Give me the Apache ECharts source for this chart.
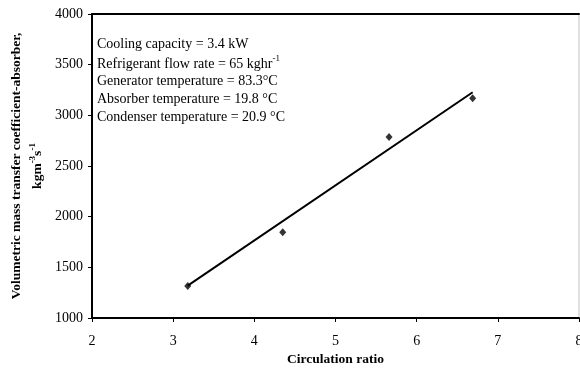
<!DOCTYPE html>
<html>
<head>
<meta charset="utf-8">
<script src="https://cdn.jsdelivr.net/npm/echarts@6/dist/echarts.min.js"></script>
<style>
  html, body { margin: 0; padding: 0; background: #fff; }
  #chart { width: 580px; height: 368px; }
</style>
</head>
<body>
<div id="chart"></div>
<script>
// Measured circulation ratio vs. volumetric mass transfer coefficient (absorber)
const ratio = [3.18, 4.35, 5.66, 6.69];
const coeff = [1316, 1846, 2787, 3169];

// Linear trend line end points
const trendRatio = [3.18, 6.69];
const trendCoeff = [1320, 3228];

// Axis ranges
const xTicks = { min: 2, max: 8, step: 1 };
const yTicks = { min: 1000, max: 4000, step: 500 };

// Operating conditions shown inside the plot
const conditions = [
  '{t|Cooling capacity = 3.4 kW}',
  '{t2|Refrigerant flow rate = 65 kghr}{s|-1}',
  '{t|Generator temperature = 83.3°C}',
  '{t|Absorber temperature = 19.8 °C}',
  '{t|Condenser temperature = 20.9 °C}'
];

const FONT = '"Liberation Serif", "Times New Roman", serif';

const chart = echarts.init(document.getElementById('chart'), null, { renderer: 'canvas' });

chart.setOption({
  animation: false,
  backgroundColor: '#fff',
  grid: {
    left: 92, right: 1, top: 14, bottom: 50,
    outerBoundsMode: 'none',
    containLabel: false,
    show: true, borderColor: '#c0c0c0', borderWidth: 1, backgroundColor: 'transparent'
  },
  xAxis: [{
    type: 'value',
    min: xTicks.min, max: xTicks.max, interval: xTicks.step,
    name: 'Circulation ratio',
    nameLocation: 'middle',
    nameGap: 35,
    nameTextStyle: { fontFamily: FONT, fontWeight: 'bold', fontSize: 13.5, color: '#000' },
    axisLine: { show: true, onZero: false, lineStyle: { color: '#000', width: 2 } },
    axisTick: { show: true, inside: false, length: 4, lineStyle: { color: '#000', width: 1 } },
    axisLabel: { fontFamily: FONT, fontSize: 14, color: '#000', margin: 16, hideOverlap: false },
    splitLine: { show: false }
  }, {
    type: 'value',
    position: 'top',
    min: xTicks.min, max: xTicks.max, interval: xTicks.step,
    axisLine: { show: true, onZero: false, lineStyle: { color: '#000', width: 2 } },
    axisTick: { show: false },
    axisLabel: { show: false },
    splitLine: { show: false }
  }],
  yAxis: {
    type: 'value',
    min: yTicks.min, max: yTicks.max, interval: yTicks.step,
    name: '{b|Volumetric mass transfer coefficient-absorber,}\n{b|kgm}{s|-3}{b|s}{s|-1}',
    nameLocation: 'middle',
    nameRotate: 90,
    nameGap: 40,
    nameTextStyle: {
      fontFamily: FONT, color: '#000', align: 'center',
      rich: {
        b: { fontFamily: FONT, fontWeight: 'bold', fontSize: 13.5, color: '#000', lineHeight: 21, verticalAlign: 'bottom' },
        s: { fontFamily: FONT, fontWeight: 'bold', fontSize: 9, color: '#000', lineHeight: 21, verticalAlign: 'bottom', padding: [0, 0, 7, 0] }
      }
    },
    axisLine: { show: true, onZero: false, lineStyle: { color: '#000', width: 2 } },
    axisTick: { show: true, inside: false, length: 4, lineStyle: { color: '#000', width: 1 } },
    axisLabel: { fontFamily: FONT, fontSize: 14, color: '#000', margin: 9, formatter: v => String(v) },
    splitLine: { show: false }
  },
  graphic: [{
    type: 'text',
    left: 97,
    top: 37.5,
    z: 10,
    style: {
      text: conditions.join('\n'),
      fill: '#000',
      rich: {
        t: { fontFamily: FONT, fontSize: 14, color: '#000', lineHeight: 17.7, verticalAlign: 'bottom' },
        t2: { fontFamily: FONT, fontSize: 14, color: '#000', lineHeight: 19.5, verticalAlign: 'bottom' },
        s: { fontFamily: FONT, fontSize: 9, color: '#000', lineHeight: 19.5, verticalAlign: 'bottom', padding: [0, 0, 8, 0] }
      }
    }
  }],
  series: [{
    name: 'Trend',
    type: 'line',
    data: trendRatio.map((x, i) => [x, trendCoeff[i]]),
    showSymbol: false,
    symbol: 'none',
    lineStyle: { color: '#000', width: 2 },
    z: 2
  }, {
    name: 'Measured',
    type: 'scatter',
    data: ratio.map((x, i) => [x, coeff[i]]),
    symbol: 'diamond',
    symbolSize: [7, 8],
    itemStyle: { color: '#000' },
    z: 3
  }]
});
</script>
</body>
</html>
